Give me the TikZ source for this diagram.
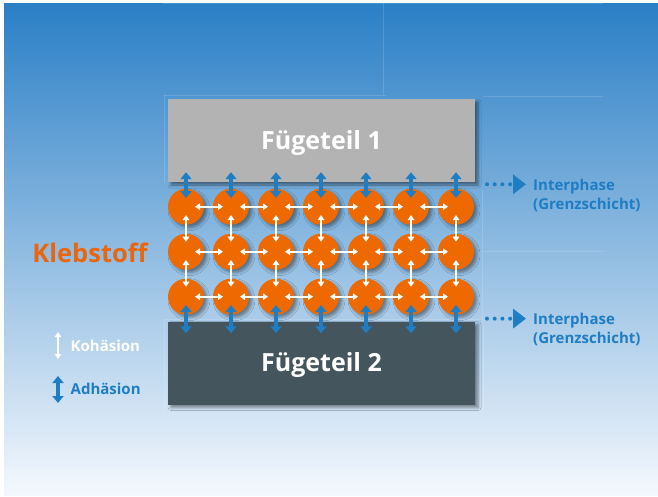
\documentclass[tikz,border=0pt]{standalone}
\usepackage{fontspec}
\setmainfont{Open Sans}
\usetikzlibrary{arrows.meta,shadows.blur,calc}

\definecolor{skytop}{HTML}{2A7FC6}
\definecolor{skymid}{HTML}{86B6E0}
\definecolor{skybot}{HTML}{F4F8FD}
\definecolor{partgrey}{HTML}{B3B3B3}
\definecolor{partslate}{HTML}{44555E}
\definecolor{glue}{HTML}{EE6A00}
\definecolor{gluetext}{HTML}{E9660C}
\definecolor{bond}{HTML}{1E7DC3}

\tikzset{
  guide/.style={white, opacity=0.14, line width=0.8pt},
  part/.style={rectangle, minimum width=307pt, minimum height=83pt, inner sep=0pt,
    text height=17.6pt, text depth=0pt,
    text=white, font=\bfseries\fontsize{25}{30}\selectfont,
    blur shadow={shadow xshift=3pt, shadow yshift=-3pt, shadow blur radius=3pt, shadow opacity=45}},
  glueball/.style={circle, fill=glue, minimum size=36pt, inner sep=0pt,
    blur shadow={shadow xshift=3pt, shadow yshift=-3pt, shadow blur radius=3pt, shadow opacity=40}},
  cohesion/.style={draw=white, line width=1.8pt,
    {Triangle[width=6.5pt,length=5pt]}-{Triangle[width=6.5pt,length=5pt]}},
  adhesion/.style={draw=bond, line width=4pt,
    {Triangle[width=11pt,length=7pt]}-{Triangle[width=11pt,length=7pt]}},
  interlink/.style={draw=bond, line width=4pt, line cap=round, dash pattern=on 0pt off 7.7pt,
    -{Triangle[width=19pt,length=13pt]}, shorten >=7pt},
  smalllabel/.style={inner sep=0pt, font=\bfseries\fontsize{15}{18.6}\selectfont},
}

\begin{document}
\begin{tikzpicture}[x=1pt,y=-1pt]
\useasboundingbox (0,0) rectangle (658,496);
\fill[white] (0,0) rectangle (658,496);
\shade[top color=skytop, middle color=skymid, bottom color=skybot] (4,3) rectangle (658,495);

% faint layout guides
\draw[guide] (163,3.5) -- (603,3.5);
\draw[guide] (383,3) -- (383,95);
\draw[guide] (164,95) -- (386,95);
\draw[guide] (164,95) -- (164,183);
\draw[guide] (483,96) -- (603,96);
\draw[guide] (482,190) -- (482,319);
\draw[guide] (482,251) -- (603,251);
\draw[guide] (164,319) -- (483,319);
\draw[guide] (164,319) -- (164,413);
\draw[guide] (164,413) -- (483,413);
\draw[guide] (483,319) -- (483,413);

% joined parts
\node[part, fill=partgrey] (p1) at (321.5,140.5) {Fügeteil 1};
\node[part, fill=partslate] (p2) at (321.5,363) {Fügeteil 2};

% adhesive particles
\foreach \r in {1,2,3}
  \foreach \c in {1,...,7}
    \node[glueball] (g-\r-\c) at ({186+45*(\c-1)},{206.7+45*(\r-1)}) {};

% cohesion between neighbouring particles
\foreach \r in {1,2,3}
  \foreach \c/\d in {1/2,2/3,3/4,4/5,5/6,6/7}
    \draw[cohesion] ([xshift=9pt]g-\r-\c.center) -- ([xshift=-8pt]g-\r-\d.center);
\foreach \r/\s in {1/2,2/3}
  \foreach \c in {1,...,7}
    \draw[cohesion] ([yshift=-8.3pt]g-\r-\c.center) -- ([yshift=10pt]g-\s-\c.center);

% adhesion to the parts
\foreach \c in {1,...,7} {
  \draw[adhesion] ([yshift=8.7pt]g-1-\c.center) -- ($(g-1-\c |- p1.south)+(0,-10)$);
  \draw[adhesion] ([yshift=-8.3pt]g-3-\c.center) -- ($(g-3-\c |- p2.north)+(0,12)$);
}

% adhesive label
\node[inner sep=0pt, text=gluetext, font=\bfseries\fontsize{25.5}{30}\selectfont, anchor=base]
  (kleb) at (90,262.3) {Klebstoff};

% interphase labels
\node[smalllabel, text=bond, align=left, anchor=north west] (ip1) at (533,179) {Interphase\\(Grenzschicht)};
\coordinate (i1) at (487,184.3);
\draw[interlink] (i1) -- (i1 -| ip1.west);
\node[smalllabel, text=bond, align=left, anchor=north west] (ip2) at (533,313.3) {Interphase\\(Grenzschicht)};
\coordinate (i2) at (487,318.6);
\draw[interlink] (i2) -- (i2 -| ip2.west);

% legend
\coordinate (kt) at (58,332);
\coordinate (kb) at (58,359);
\draw[cohesion] (kt) -- (kb);
\node[smalllabel, text=white, anchor=base west] (koh) at (70.5,351.7) {Kohäsion};
\coordinate (at) at (58,376);
\coordinate (ab) at (58,403);
\draw[adhesion] (at) -- (ab);
\node[smalllabel, text=bond, anchor=base west] (adh) at (70.5,394) {Adhäsion};
\end{tikzpicture}
\end{document}
